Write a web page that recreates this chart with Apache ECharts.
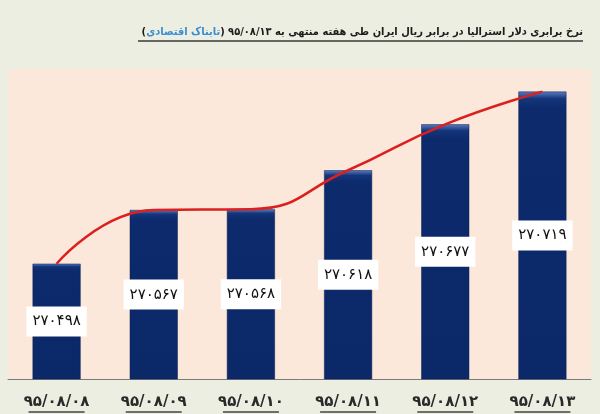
<!DOCTYPE html>
<html>
<head>
<meta charset="utf-8">
<script src="https://cdn.jsdelivr.net/npm/echarts@6/dist/echarts.min.js"></script>
<style>
  html, body { margin: 0; padding: 0; background: #ebeee0; }
  #chart { width: 600px; height: 414px; }
</style>
</head>
<body>
<div id="chart"></div>
<script>
// dates of the week (Persian calendar)
var dates = ["۹۵/۰۸/۰۸", "۹۵/۰۸/۰۹", "۹۵/۰۸/۱۰", "۹۵/۰۸/۱۱", "۹۵/۰۸/۱۲", "۹۵/۰۸/۱۳"];
// rial per Australian dollar
var rates = [27498, 27567, 27568, 27618, 27677, 27719];
// labels as printed on the bars
var barLabels = ["۲۷۰۴۹۸", "۲۷۰۵۶۷", "۲۷۰۵۶۸", "۲۷۰۶۱۸", "۲۷۰۶۷۷", "۲۷۰۷۱۹"];

var titleMain = "نرخ برابری دلار استرالیا در برابر ریال ایران طی هفته منتهی به ۹۵/۰۸/۱۳";
var titleSource = "تابناک اقتصادی";

var faFont = "DejaVu Sans";
var titleFont = "'DejaVu Sans Condensed', 'DejaVu Sans'";

var chart = echarts.init(document.getElementById("chart"));

var option = {
    backgroundColor: "#ebeee0",
    animation: false,
    title: {
        right: 12,
        top: 20,
        text: "{k|(}{s|" + titleSource + "}{k|) }{t|" + titleMain + "}\n{u| }",
        textStyle: {
            rich: {
                t: { fontFamily: titleFont, fontSize: 11, fontWeight: "bold", color: "#1c1c1c", lineHeight: 15, align: "right" },
                k: { fontFamily: titleFont, fontSize: 11, fontWeight: "bold", color: "#1c1c1c", lineHeight: 15, align: "right" },
                s: { fontFamily: titleFont, fontSize: 11, color: "#3b8fd0", lineHeight: 15, align: "right" },
                u: { fontSize: 1, lineHeight: 2, height: 1.5, width: 445, backgroundColor: "#3a3a3a", align: "right" }
            }
        }
    },
    grid: {
        left: 8,
        right: 9,
        top: 69,
        bottom: 35,
        show: true,
        backgroundColor: "#fbe8da",
        borderWidth: 0
    },
    xAxis: {
        type: "category",
        data: dates,
        axisLine: { lineStyle: { color: "#7a7a7a", width: 1 } },
        axisTick: { show: false },
        axisLabel: {
            margin: 15,
            formatter: function (v) {
                return "{a|" + v + "}\n{u| }";
            },
            rich: {
                a: { fontFamily: faFont, fontSize: 15, fontWeight: "bold", color: "#2a2a2a", lineHeight: 17 },
                u: { fontSize: 1, lineHeight: 2, height: 1.5, width: 56, backgroundColor: "#444" }
            }
        }
    },
    yAxis: {
        type: "value",
        min: 27350,
        max: 27748,
        show: false,
        splitLine: { show: false }
    },
    series: [
        {
            type: "bar",
            data: rates,
            barWidth: 48,
            itemStyle: {
                color: new echarts.graphic.LinearGradient(0, 0, 0, 1, [
                    { offset: 0, color: "#5d7cc0" },
                    { offset: 0.025, color: "#14357a" },
                    { offset: 0.06, color: "#0c2a6c" },
                    { offset: 1, color: "#0b2868" }
                ]),
                borderColor: "#081e52",
                borderWidth: 0.5
            },
            label: {
                show: true,
                position: "inside",
                formatter: function (p) {
                    return barLabels[p.dataIndex];
                },
                fontFamily: faFont,
                fontSize: 15,
                color: "#111",
                backgroundColor: "#ffffff",
                padding: [8, 6, 7, 6]
            },
            z: 2
        },
        {
            type: "line",
            data: rates,
            smooth: 0.5,
            showSymbol: false,
            lineStyle: { color: "#dc1f1f", width: 2.5 },
            z: 3
        }
    ]
};

chart.setOption(option);
</script>
</body>
</html>
